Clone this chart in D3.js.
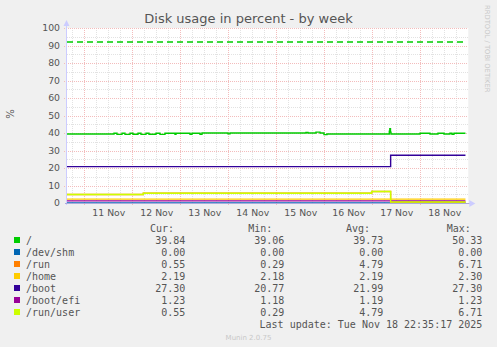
<!DOCTYPE html>
<html>
<head>
<meta charset="utf-8">
<script src="https://cdn.jsdelivr.net/npm/d3@7"></script>
<style>
  body { margin: 0; background: #f0f0f0; }
  svg { display: block; }
  .tick text { fill: #555; font-family: "DejaVu Sans", sans-serif; font-size: 9.3px; }
  .legend text { font-family: "DejaVu Sans Mono", monospace; font-size: 10px; fill: #555; }
</style>
</head>
<body>
<div id="chart"></div>
<script>
const names = ['/', '/dev/shm', '/run', '/home', '/boot', '/boot/efi', '/run/user'];
const colors = ['#00cc00', '#0066b3', '#ff8000', '#ffcc00', '#330099', '#990099', '#ccff00'];
const curVals = ['39.84', '0.00', '0.55', '2.19', '27.30', '1.23', '0.55'];
const minVals = ['39.06', '0.00', '0.29', '2.18', '20.77', '1.18', '0.29'];
const avgVals = ['39.73', '0.00', '4.79', '2.19', '21.99', '1.19', '4.79'];
const maxVals = ['50.33', '0.00', '6.71', '2.30', '27.30', '1.23', '6.71'];

// step series: [time, value] change points
const rootSteps = [
  ['2025-11-10 15:20', 39.4], ['2025-11-11 14:50', 39.9], ['2025-11-11 16:20', 39.2],
  ['2025-11-11 18:50', 39.9], ['2025-11-11 20:20', 39.2], ['2025-11-11 22:50', 39.9],
  ['2025-11-12 00:20', 39.3], ['2025-11-12 02:50', 39.9], ['2025-11-12 04:20', 39.2],
  ['2025-11-12 06:50', 39.9], ['2025-11-12 08:20', 39.3], ['2025-11-12 11:50', 39.9],
  ['2025-11-12 13:50', 39.2], ['2025-11-12 16:20', 39.9], ['2025-11-12 21:20', 39.3],
  ['2025-11-12 21:50', 39.9], ['2025-11-13 04:50', 39.3], ['2025-11-13 05:50', 39.9],
  ['2025-11-13 09:50', 39.3], ['2025-11-13 10:50', 40.0], ['2025-11-13 23:50', 39.5],
  ['2025-11-14 00:50', 40.0], ['2025-11-15 14:50', 40.3], ['2025-11-15 15:50', 40.0],
  ['2025-11-15 19:50', 40.5], ['2025-11-15 21:50', 40.0], ['2025-11-15 23:50', 39.1],
  ['2025-11-16 01:20', 39.4], ['2025-11-17 08:30', 41.0], ['2025-11-17 08:45', 42.4],
  ['2025-11-17 09:05', 40.5], ['2025-11-17 09:20', 39.4],
  ['2025-11-17 23:50', 39.9], ['2025-11-18 04:50', 39.4], ['2025-11-18 08:50', 39.9],
  ['2025-11-18 11:50', 39.4], ['2025-11-18 14:50', 39.9], ['2025-11-18 15:50', 39.3],
  ['2025-11-18 16:50', 39.84]
];
const shmSteps = [['2025-11-10 15:20', 0]];
const runSteps = [['2025-11-10 15:20', 4.9], ['2025-11-12 05:30', 5.6], ['2025-11-16 23:40', 6.6], ['2025-11-17 09:10', 0.55]];
const homeSteps = [['2025-11-10 15:20', 2.19]];
const bootSteps = [['2025-11-10 15:20', 20.77], ['2025-11-17 09:10', 27.3]];
const efiSteps = [['2025-11-10 15:20', 1.2]];
const runUserSteps = runSteps;

const seriesSteps = [rootSteps, shmSteps, runSteps, homeSteps, bootSteps, efiSteps, runUserSteps];

const width = 497, height = 347;
const marginLeft = 67, plotRight = 468.3, plotTop = 28, plotBottom = 203;

const parse = d3.timeParse('%Y-%m-%d %H:%M');
const start = parse('2025-11-10 15:20');
const end = parse('2025-11-19 00:00');
const lastUpdate = parse('2025-11-18 22:35');

const x = d3.scaleTime().domain([start, end]).range([marginLeft, plotRight]);
const y = d3.scaleLinear().domain([0, 100]).range([plotBottom, plotTop]);

const svg = d3.select('#chart').append('svg')
  .attr('width', width)
  .attr('height', height);

svg.append('rect').attr('width', width).attr('height', height).attr('fill', '#f0f0f0');
svg.append('rect')
  .attr('x', marginLeft).attr('y', plotTop)
  .attr('width', plotRight - marginLeft).attr('height', plotBottom - plotTop)
  .attr('fill', '#fff');

// grid
const minorCol = '#e2e2e2', majorCol = '#f3bcbc';
const grid = svg.append('g').attr('shape-rendering', 'crispEdges');
const minorX = d3.timeHour.every(6).range(start, end).filter((d) => d.getHours() != 0);
const majorX = d3.timeDay.range(start, end);
grid.selectAll('.vminor').data(minorX).join('line')
  .attr('x1', (d) => Math.round(x(d)) + 0.5).attr('x2', (d) => Math.round(x(d)) + 0.5)
  .attr('y1', plotTop).attr('y2', plotBottom)
  .attr('stroke', minorCol).attr('stroke-dasharray', '1,1');
grid.selectAll('.hminor').data(d3.range(5, 100, 10)).join('line')
  .attr('x1', marginLeft).attr('x2', plotRight)
  .attr('y1', (d) => Math.round(y(d)) + 0.5).attr('y2', (d) => Math.round(y(d)) + 0.5)
  .attr('stroke', minorCol).attr('stroke-dasharray', '1,1');
grid.selectAll('.vmajor').data(majorX).join('line')
  .attr('x1', (d) => Math.round(x(d)) + 0.5).attr('x2', (d) => Math.round(x(d)) + 0.5)
  .attr('y1', plotTop).attr('y2', plotBottom + 2)
  .attr('stroke', majorCol).attr('stroke-dasharray', '1,1');
grid.selectAll('.hmajor').data(d3.range(10, 101, 10)).join('line')
  .attr('x1', marginLeft - 3).attr('x2', plotRight)
  .attr('y1', (d) => Math.round(y(d)) + 0.5).attr('y2', (d) => Math.round(y(d)) + 0.5)
  .attr('stroke', majorCol).attr('stroke-dasharray', '1,1');

// warning line
svg.append('line')
  .attr('x1', marginLeft).attr('x2', plotRight - 4)
  .attr('y1', y(92)).attr('y2', y(92))
  .attr('stroke', '#00cc00').attr('stroke-width', 1.3).attr('stroke-dasharray', '6,4');

// series
const line = d3.line()
  .x((d) => x(d[0]))
  .y((d) => y(d[1]))
  .curve(d3.curveStepAfter);

seriesSteps.forEach((steps, i) => {
  let pts = steps.map((s) => [parse(s[0]), s[1]]);
  pts.push([lastUpdate, pts[pts.length - 1][1]]);
  svg.append('path')
    .datum(pts)
    .attr('fill', 'none')
    .attr('stroke', colors[i])
    .attr('stroke-width', 1.4)
    .attr('d', line);
});

// axes lines + arrows
svg.append('line').attr('x1', marginLeft - 0.5).attr('x2', marginLeft - 0.5)
  .attr('y1', plotBottom + 2).attr('y2', plotTop - 5).attr('stroke', '#ccccff');
svg.append('line').attr('x1', marginLeft - 2).attr('x2', plotRight + 2)
  .attr('y1', plotBottom + 0.5).attr('y2', plotBottom + 0.5).attr('stroke', '#aaaadd');
svg.append('path')
  .attr('d', `M${marginLeft - 3.5},${plotTop - 2} L${marginLeft - 0.5},${plotTop - 8} L${marginLeft + 2.5},${plotTop - 2} Z`)
  .attr('fill', '#ccccff');
svg.append('path')
  .attr('d', `M${plotRight + 1},${plotBottom - 3} L${plotRight + 7},${plotBottom + 0.5} L${plotRight + 1},${plotBottom + 4} Z`)
  .attr('fill', '#ccccff');

// tick labels
svg.append('g')
  .attr('transform', `translate(${marginLeft}, 0)`)
  .call(d3.axisLeft(y).tickValues(d3.range(0, 101, 10)).tickSize(0).tickPadding(7))
  .call((g) => g.select('.domain').remove());

const dayLabels = d3.timeDay.range(d3.timeDay.ceil(start), end).map((d) => d3.timeHour.offset(d, 12));
svg.append('g')
  .attr('transform', `translate(0, ${plotBottom})`)
  .call(d3.axisBottom(x).tickValues(dayLabels).tickFormat(d3.timeFormat('%-d %b')).tickSize(0).tickPadding(6))
  .call((g) => g.select('.domain').remove());

// title and side texts
svg.append('text')
  .attr('x', 248.5).attr('y', 23)
  .attr('text-anchor', 'middle')
  .attr('font-family', 'DejaVu Sans, sans-serif').attr('font-size', 13)
  .attr('fill', '#555')
  .text('Disk usage in percent - by week');

svg.append('text')
  .attr('transform', 'translate(14, 114) rotate(-90)')
  .attr('text-anchor', 'middle')
  .attr('font-family', 'DejaVu Sans, sans-serif').attr('font-size', 10)
  .attr('fill', '#555')
  .text('%');

svg.append('text')
  .attr('transform', 'translate(485, 5) rotate(90)')
  .attr('text-anchor', 'start')
  .attr('font-family', 'DejaVu Sans, sans-serif').attr('font-size', 6.8)
  .attr('fill', '#c8c8c8')
  .text('RRDTOOL / TOBI OETIKER');

// legend
const legend = svg.append('g').attr('class', 'legend');
const rowY = (i) => 243.5 + i * 12;
const headers = [['Cur:', 150], ['Min:', 248.3], ['Avg:', 346], ['Max:', 446.7]];
legend.selectAll('.hdr').data(headers).join('text')
  .attr('x', (d) => d[1]).attr('y', 231.5)
  .text((d) => d[0]);

legend.selectAll('rect').data(names).join('rect')
  .attr('x', 14).attr('y', (d, i) => rowY(i) - 6.5)
  .attr('width', 6).attr('height', 6)
  .attr('fill', (d, i) => colors[i]);
legend.selectAll('.name').data(names).join('text')
  .attr('x', 26).attr('y', (d, i) => rowY(i))
  .text((d) => d);

const cols = [[curVals, 185.3], [minVals, 284.3], [avgVals, 383.3], [maxVals, 482.3]];
cols.forEach(([vals, xr]) => {
  legend.append('g').selectAll('text').data(vals).join('text')
    .attr('x', xr).attr('y', (d, i) => rowY(i))
    .attr('text-anchor', 'end')
    .text((d) => d);
});

legend.append('text')
  .attr('x', 482.3).attr('y', rowY(7))
  .attr('text-anchor', 'end')
  .text('Last update: Tue Nov 18 22:35:17 2025');

svg.append('text')
  .attr('x', 248.5).attr('y', 339.5)
  .attr('text-anchor', 'middle')
  .attr('font-family', 'DejaVu Sans, sans-serif').attr('font-size', 7)
  .attr('fill', '#c8c8c8')
  .text('Munin 2.0.75');
</script>
</body>
</html>
